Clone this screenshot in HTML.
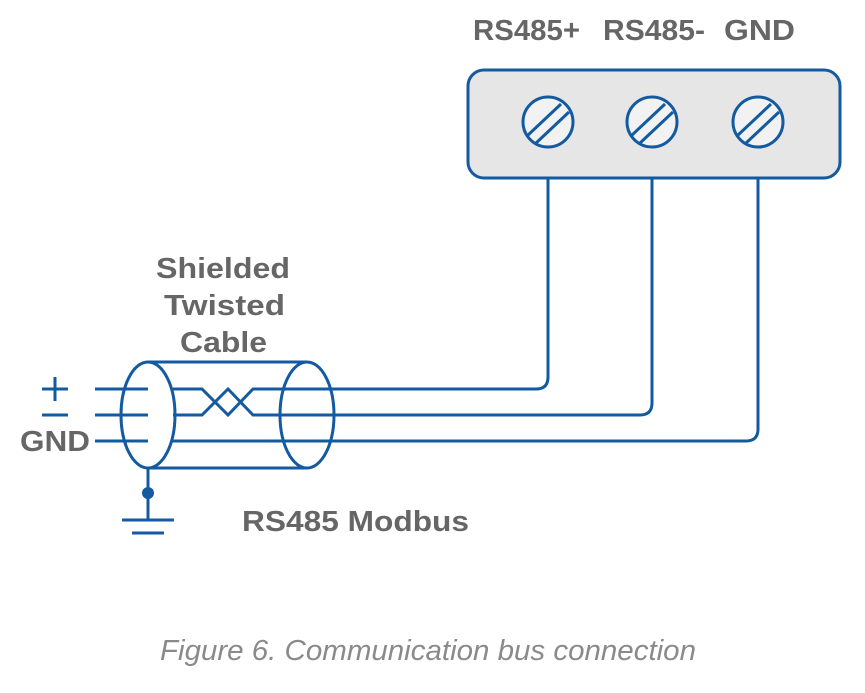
<!DOCTYPE html>
<html><head><meta charset="utf-8"><style>
html,body{margin:0;padding:0;background:#fff;}
svg{display:block;}
.t{font-family:"Liberation Sans",sans-serif;font-weight:bold;fill:#666;}
</style></head><body>
<svg width="865" height="693" viewBox="0 0 865 693" xmlns="http://www.w3.org/2000/svg">
<g class="t" font-size="29">
<text x="473" y="40" textLength="107" lengthAdjust="spacingAndGlyphs">RS485+</text>
<text x="603" y="40" textLength="102" lengthAdjust="spacingAndGlyphs">RS485-</text>
<text x="724" y="40" textLength="71" lengthAdjust="spacingAndGlyphs">GND</text>
<text x="156" y="278" textLength="134" lengthAdjust="spacingAndGlyphs">Shielded</text>
<text x="164" y="315" textLength="121" lengthAdjust="spacingAndGlyphs">Twisted</text>
<text x="180" y="352" textLength="87" lengthAdjust="spacingAndGlyphs">Cable</text>
<text x="20" y="451" textLength="70" lengthAdjust="spacingAndGlyphs">GND</text>
<text x="242" y="531" textLength="227" lengthAdjust="spacingAndGlyphs">RS485 Modbus</text>
</g>
<text x="428" y="660" text-anchor="middle" font-family="Liberation Sans,sans-serif" font-style="italic" font-size="29" fill="#8a8a8a" textLength="536" lengthAdjust="spacingAndGlyphs">Figure 6. Communication bus connection</text>
<g fill="none" stroke="#135aa0" stroke-width="3">
<rect x="468" y="70" width="372" height="108" rx="16" fill="#e6e6e6"/>
<g fill="#f2f2f2">
<circle cx="548" cy="122" r="25"/><circle cx="652" cy="122" r="25"/><circle cx="758" cy="122" r="25"/>
</g>
<path d="M527 136L561 104M535 144L569 112M631 136L665 104M639 144L673 112M737 136L771 104M745 144L779 112"/>
<path d="M548 178V377Q548 389 536 389H307"/>
<path d="M652 178V403Q652 415 640 415H307"/>
<path d="M758 178V429Q758 441 746 441H148"/>
<path d="M148 362H307M148 468H307"/>
<ellipse cx="148" cy="415" rx="27" ry="53" fill="#fff"/>
<ellipse cx="307" cy="415" rx="27" ry="53"/>
<path d="M95 389H148M95 415H148M95 441H148"/>
<path d="M173 389H202L228 415L253 389H307M173 415H202L228 389L253 415H307M173 441H307"/>
<path d="M148 468V520M122 520H174M132 533H164"/>
<path d="M42 389H68M55 377V401M42 415H68"/>
</g>
<circle cx="148" cy="493" r="6" fill="#135aa0"/>
</svg>
</body></html>
